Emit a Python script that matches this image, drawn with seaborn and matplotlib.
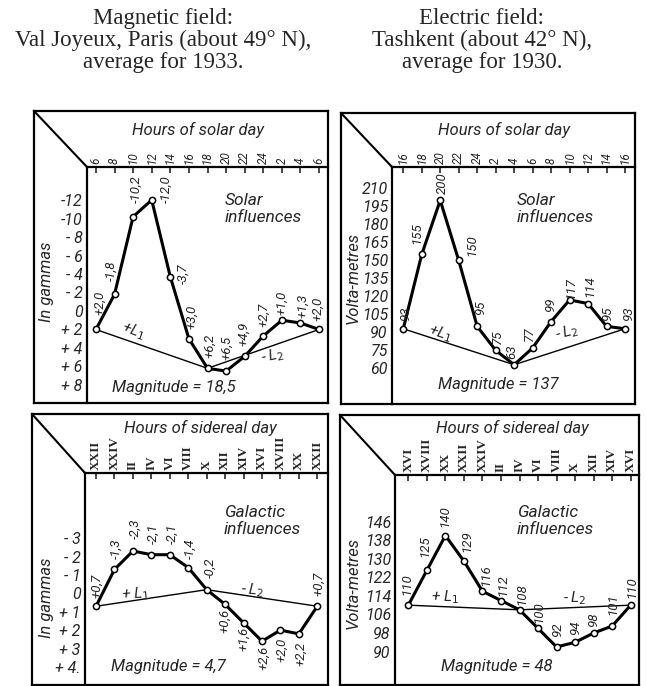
import matplotlib
matplotlib.use('Agg')
import matplotlib.pyplot as plt
import seaborn as sns
from matplotlib import font_manager
from matplotlib.lines import Line2D

# --- data ---
solar_mag_ticks = ['6', '8', '10', '12', '14', '16', '18', '20', '22', '24', '2', '4', '6']
solar_mag_vals = [2.0, -1.8, -10.2, -12.0, -3.7, 3.0, 6.2, 6.5, 4.9, 2.7, 1.0, 1.3, 2.0]
solar_mag_text = ['+2,0', '-1,8', '-10,2', '-12,0', '-3,7', '+3,0', '+6,2', '+6,5',
                  '+4,9', '+2,7', '+1,0', '+1,3', '+2,0']
solar_mag_yticks = [-12, -10, -8, -6, -4, -2, 0, 2, 4, 6, 8]
solar_mag_ylabels = ['-12', '-10', '- 8', '- 6', '- 4', '- 2', '0', '+ 2', '+ 4', '+ 6', '+ 8']

solar_el_ticks = ['16', '18', '20', '22', '24', '2', '4', '6', '8', '10', '12', '14', '16']
solar_el_vals = [93, 155, 200, 150, 95, 75, 63, 77, 99, 117, 114, 95, 93]
solar_el_yticks = [45, 60, 75, 90, 105, 120, 135, 150, 165, 180, 195, 210]
solar_el_ylabels = [''] + [str(v) for v in solar_el_yticks[1:]]

sid_mag_ticks = ['XXII', 'XXIV', 'II', 'IV', 'VI', 'VIII', 'X', 'XII', 'XIV', 'XVI',
                 'XVIII', 'XX', 'XXII']
sid_mag_vals = [0.7, -1.3, -2.3, -2.1, -2.1, -1.4, -0.2, 0.6, 1.6, 2.6, 2.0, 2.2, 0.7]
sid_mag_text = ['+0,7', '-1,3', '-2,3', '-2,1', '-2,1', '-1,4', '-0,2', '+0,6', '+1,6',
                '+2,6', '+2,0', '+2,2', '+0,7']
sid_mag_yticks = [-3, -2, -1, 0, 1, 2, 3, 4]
sid_mag_ylabels = ['- 3', '- 2', '- 1', '0', '+ 1', '+ 2', '+ 3', '+ 4.']

sid_el_ticks = ['XVI', 'XVIII', 'XX', 'XXII', 'XXIV', 'II', 'IV', 'VI', 'VIII', 'X',
                'XII', 'XIV', 'XVI']
sid_el_vals = [110, 125, 140, 129, 116, 112, 108, 100, 92, 94, 98, 101, 110]
sid_el_yticks = [82, 90, 98, 106, 114, 122, 130, 138, 146]
sid_el_ylabels = [''] + [str(v) for v in sid_el_yticks[1:]]

l_points = [0, 6, 12]          # ends of the L1 / L2 chords
magnitudes = ['18,5', '137', '4,7', '48']

# --- figure setup ---
sns.set_style('white')
plt.rcParams['font.family'] = ['Liberation Serif', 'DejaVu Serif']
names = {f.name for f in font_manager.fontManager.ttflist}
SANS = 'Liberation Sans Narrow' if 'Liberation Sans Narrow' in names else 'Roboto'

W, H = 646, 686
fig = plt.figure(figsize=(W / 100, H / 100), dpi=100)


def fx(x):
    return x / W


def fy(y):
    return 1 - y / H


def ftext(x, y, s, **kw):
    kw.setdefault('family', SANS)
    kw.setdefault('style', 'italic')
    fig.text(fx(x), fy(y), s, **kw)


def panel(out, inn, right, bottom, xlim, ylim):
    x0, y0 = out
    xi, yi = inn
    fr = fig.add_axes([fx(x0), fy(bottom), fx(right) - fx(x0), fy(y0) - fy(bottom)])
    fr.set_xticks([])
    fr.set_yticks([])
    fr.patch.set_alpha(0)
    for s in fr.spines.values():
        s.set_linewidth(1.6)
        s.set_color('black')
    fig.add_artist(Line2D([fx(x0), fx(xi)], [fy(y0), fy(yi)], transform=fig.transFigure,
                          color='black', lw=1.5))
    ax = fig.add_axes([fx(xi), fy(bottom), fx(right) - fx(xi), fy(yi) - fy(bottom)])
    ax.set_xlim(xlim)
    ax.set_ylim(ylim)
    ax.patch.set_alpha(0)
    for k, s in ax.spines.items():
        s.set_visible(k in ('top', 'left'))
        s.set_linewidth(1.6)
        s.set_color('black')
    ax.xaxis.tick_top()
    ax.tick_params(axis='x', direction='in', length=4, width=1.2, pad=2, labelrotation=90)
    ax.tick_params(axis='y', direction='in', length=4, width=1.2, pad=3)
    return ax


def draw(ax, vals, texts, offsets, xt, xt_style, yt, ylab):
    x = list(range(len(vals)))
    sns.lineplot(x=[x[i] for i in l_points], y=[vals[i] for i in l_points], ax=ax,
                 color='black', lw=1.0, zorder=2)
    sns.lineplot(x=x, y=vals, ax=ax, color='black', lw=2.2, marker='o', markersize=4.5,
                 markerfacecolor='white', markeredgecolor='black', markeredgewidth=1.1,
                 zorder=3)
    for xi, v, t, (dx, dy) in zip(x, vals, texts, offsets):
        ax.annotate(t, (xi, v), xytext=(dx, -dy), textcoords='offset pixels',
                    rotation=90, ha='center', va='center', fontsize=9.5,
                    family=SANS, style='italic')
    ax.set_xticks(x, xt, **xt_style)
    ax.set_yticks(yt, ylab, family=SANS, style='italic', fontsize=11.5)
    ax.set_xlabel('')
    ax.set_ylabel('')


solar_style = dict(family=SANS, style='italic', fontsize=8.5)
roman_style = dict(family='Liberation Serif', weight='bold', fontsize=9.5)

# magnetic / solar
ax1 = panel((34, 111), (87, 167), 328, 403, (-0.48, 12.48), (9.95, -15.57))
off1 = [(4, -27), (-3, -24), (3, -28), (14, -11), (13, -3), (3, -22), (2, -22), (1, -23),
        (-1, -22), (0, -21), (0, -17), (2, -17), (-1, -21)]
draw(ax1, solar_mag_vals, solar_mag_text, off1, solar_mag_ticks, solar_style,
     solar_mag_yticks, solar_mag_ylabels)

# electric / solar
ax2 = panel((341, 113), (392, 167), 635, 404, (-0.61, 12.54), (30.3, 227.8))
off2 = [(2, -15), (-5, -21), (2, -17), (13, -15), (3, -19), (2, -14), (-2, -13), (-3, -14),
        (-1, -17), (1, -12), (2, -17), (1, -13), (4, -15)]
draw(ax2, solar_el_vals, [str(v) for v in solar_el_vals], off2, solar_el_ticks, solar_style,
     solar_el_yticks, solar_el_ylabels)

# magnetic / sidereal
ax3 = panel((32, 414), (85, 473), 328, 685, (-0.6, 12.58), (4.98, -6.54))
off3 = [(1, -20), (2, -21), (2, -22), (2, -21), (2, -21), (2, -19), (3, -22), (0, 16),
        (0, 16), (2, 17), (1, 20), (2, 20), (1, -22)]
draw(ax3, sid_mag_vals, sid_mag_text, off3, sid_mag_ticks, roman_style,
     sid_mag_yticks, sid_mag_ylabels)

# electric / sidereal
ax4 = panel((340, 415), (395, 475), 639, 685, (-0.72, 12.45), (75.6, 166.1))
off4 = [(-1, -21), (-2, -24), (-1, -19), (3, -20), (3, -16), (2, -15), (2, -16), (1, -16),
        (1, -17), (0, -15), (0, -13), (1, -22), (1, -18)]
draw(ax4, sid_el_vals, [str(v) for v in sid_el_vals], off4, sid_el_ticks, roman_style,
     sid_el_yticks, sid_el_ylabels)

# headings
ftext(163, 8, 'Magnetic field:\nVal Joyeux, Paris (about 49° N),\naverage for 1933.',
      family='Liberation Serif', style='normal', fontsize=16.5, ha='center', va='top',
      linespacing=1.05)
ftext(482, 8, 'Electric field:\nTashkent (about 42° N),\naverage for 1930.',
      family='Liberation Serif', style='normal', fontsize=16.5, ha='center', va='top',
      linespacing=1.05)

# axis titles and notes inside the frames
for x, y, s in [(198, 130, 'Hours of solar day'), (504, 130, 'Hours of solar day'),
                (200, 428, 'Hours of sidereal day'), (512, 428, 'Hours of sidereal day')]:
    ftext(x, y, s, fontsize=12, ha='center', va='center')
for x, y, s in [(47, 282, 'In gammas'), (353, 278, 'Volta-metres'),
                (47, 598, 'In gammas'), (353, 583, 'Volta-metres')]:
    ftext(x, y, s, fontsize=12, ha='center', va='center', rotation=90)
for x, y, s in [(225, 193, 'Solar\ninfluences'), (517, 193, 'Solar\ninfluences'),
                (224, 505, 'Galactic\ninfluences'), (517, 505, 'Galactic\ninfluences')]:
    ftext(x, y, s, fontsize=12.5, ha='left', va='top', linespacing=1.15)
for (x, y), m in zip([(174, 387), (498, 385), (168, 667), (497, 667)], magnitudes):
    ftext(x, y, 'Magnitude = ' + m, fontsize=12, ha='center', va='center')

# chord labels
for x, y, s, r in [(133, 331, '+L$_1$', -20), (273, 356, '- L$_2$', 12),
                   (440, 333, '+L$_1$', -18), (567, 332, '- L$_2$', 15),
                   (135, 594, '+ L$_1$', 4), (253, 590, '- L$_2$', -5),
                   (445, 597, '+ L$_1$', 0), (575, 598, '- L$_2$', 0)]:
    ftext(x, y, s, fontsize=11, ha='center', va='center', rotation=r)

fig.savefig('out.png', dpi=100)
